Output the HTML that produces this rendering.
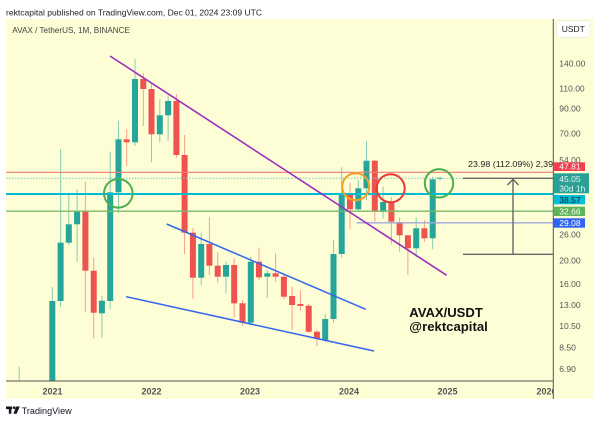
<!DOCTYPE html>
<html><head><meta charset="utf-8"><style>
html,body{margin:0;padding:0;background:#fff;}
svg{display:block;}
text{font-family:"Liberation Sans",sans-serif;}
</style></head><body>
<svg width="600" height="423" viewBox="0 0 600 423" xmlns="http://www.w3.org/2000/svg">
<defs><clipPath id="c"><rect x="6" y="19" width="547" height="362"/></clipPath></defs>
<rect x="0" y="0" width="600" height="423" fill="#fff"/>
<text x="6" y="15.5" font-size="8.5" fill="#222" textLength="256" lengthAdjust="spacingAndGlyphs">rektcapital published on TradingView.com, Dec 01, 2024 23:09 UTC</text>
<rect x="6" y="19" width="587.5" height="380" fill="#fdfdd6"/>
<text x="12.3" y="32.8" font-size="8.5" fill="#444" textLength="117.7" lengthAdjust="spacingAndGlyphs">AVAX / TetherUS, 1M, BINANCE</text>
<g clip-path="url(#c)">
<!-- green wicks -->
<g stroke="#26a69a" stroke-opacity=".55" stroke-width="1">
<line x1="19.2" y1="366.7" x2="19.2" y2="381"/>
<line x1="52.3" y1="287" x2="52.3" y2="381"/>
<line x1="60.6" y1="149" x2="60.6" y2="307"/>
<line x1="68.8" y1="193" x2="68.8" y2="245"/>
<line x1="77.1" y1="189" x2="77.1" y2="261.7"/>
<line x1="101.9" y1="295.7" x2="101.9" y2="337.7"/>
<line x1="110.2" y1="151.7" x2="110.2" y2="309.3"/>
<line x1="118.5" y1="121" x2="118.5" y2="212.7"/>
<line x1="135" y1="59" x2="135" y2="146"/>
<line x1="159.8" y1="99.3" x2="159.8" y2="142.3"/>
<line x1="168.1" y1="95.7" x2="168.1" y2="140.7"/>
<line x1="201.2" y1="232.7" x2="201.2" y2="285"/>
<line x1="226" y1="261.7" x2="226" y2="293.3"/>
<line x1="250.8" y1="256.7" x2="250.8" y2="324"/>
<line x1="267.3" y1="270" x2="267.3" y2="297.7"/>
<line x1="325.2" y1="314" x2="325.2" y2="341.7"/>
<line x1="333.5" y1="240" x2="333.5" y2="322.7"/>
<line x1="341.7" y1="167.3" x2="341.7" y2="257.7"/>
<line x1="358.3" y1="180" x2="358.3" y2="211.7"/>
<line x1="366.5" y1="141" x2="366.5" y2="200"/>
<line x1="383.1" y1="186.7" x2="383.1" y2="218.3"/>
<line x1="416.2" y1="217.3" x2="416.2" y2="257.3"/>
<line x1="432.7" y1="176.7" x2="432.7" y2="249.3"/>
<line x1="440" y1="176.7" x2="440" y2="180.7"/>
</g>
<!-- red wicks -->
<g stroke="#ef5350" stroke-opacity=".55" stroke-width="1">
<line x1="85.4" y1="181.7" x2="85.4" y2="311.7"/>
<line x1="93.7" y1="257.3" x2="93.7" y2="338.3"/>
<line x1="126.7" y1="129" x2="126.7" y2="166"/>
<line x1="143.3" y1="73.3" x2="143.3" y2="126"/>
<line x1="151.5" y1="82.3" x2="151.5" y2="162.3"/>
<line x1="176.4" y1="94.3" x2="176.4" y2="157.7"/>
<line x1="184.6" y1="135" x2="184.6" y2="254.3"/>
<line x1="192.9" y1="228" x2="192.9" y2="299"/>
<line x1="209.4" y1="217.3" x2="209.4" y2="275"/>
<line x1="217.7" y1="252.3" x2="217.7" y2="282.3"/>
<line x1="234.2" y1="258.3" x2="234.2" y2="317.7"/>
<line x1="242.5" y1="300" x2="242.5" y2="326"/>
<line x1="259" y1="247.7" x2="259" y2="280"/>
<line x1="275.6" y1="253.3" x2="275.6" y2="281.7"/>
<line x1="283.9" y1="274.3" x2="283.9" y2="299.3"/>
<line x1="292.1" y1="286.7" x2="292.1" y2="330"/>
<line x1="300.4" y1="290" x2="300.4" y2="311"/>
<line x1="308.7" y1="304" x2="308.7" y2="332.7"/>
<line x1="316.9" y1="330" x2="316.9" y2="346"/>
<line x1="350" y1="182.7" x2="350" y2="229"/>
<line x1="374.8" y1="160" x2="374.8" y2="221.7"/>
<line x1="391.4" y1="197.3" x2="391.4" y2="244"/>
<line x1="399.6" y1="217.3" x2="399.6" y2="251.7"/>
<line x1="407.9" y1="235" x2="407.9" y2="275"/>
<line x1="424.4" y1="220" x2="424.4" y2="241.7"/>
</g>
<!-- green bodies -->
<g fill="#26a69a">
<rect x="49.3" y="301" width="6" height="80"/>
<rect x="57.6" y="242.7" width="6" height="58.3"/>
<rect x="65.8" y="224.3" width="6" height="18.4"/>
<rect x="74.1" y="210.7" width="6" height="13.6"/>
<rect x="98.9" y="300.7" width="6" height="12.6"/>
<rect x="107.2" y="192.3" width="6" height="108.7"/>
<rect x="115.5" y="139.3" width="6" height="53"/>
<rect x="132" y="79" width="6" height="63.3"/>
<rect x="156.8" y="115.3" width="6" height="19"/>
<rect x="165.1" y="101" width="6" height="14.3"/>
<rect x="198.2" y="244" width="6" height="33.7"/>
<rect x="223" y="265" width="6" height="11.7"/>
<rect x="247.8" y="261.7" width="6" height="61"/>
<rect x="264.3" y="273.3" width="6" height="3.4"/>
<rect x="322.2" y="319" width="6" height="21"/>
<rect x="330.5" y="254" width="6" height="65"/>
<rect x="338.7" y="194" width="6" height="60"/>
<rect x="355.3" y="188.3" width="6" height="21"/>
<rect x="363.5" y="160.7" width="6" height="27.6"/>
<rect x="380.1" y="202" width="6" height="8.7"/>
<rect x="413.2" y="228.3" width="6" height="20"/>
<rect x="429.7" y="179.3" width="6" height="59"/>
<rect x="437" y="177.8" width="6" height="1"/>
</g>
<!-- red bodies -->
<g fill="#ef5350">
<rect x="82.4" y="210.7" width="6" height="60"/>
<rect x="90.7" y="270.7" width="6" height="42"/>
<rect x="123.7" y="139.3" width="6" height="3"/>
<rect x="140.3" y="79" width="6" height="10"/>
<rect x="148.5" y="89" width="6" height="45.3"/>
<rect x="173.4" y="101" width="6" height="54"/>
<rect x="181.6" y="155" width="6" height="77.7"/>
<rect x="189.9" y="232.7" width="6" height="45"/>
<rect x="206.4" y="244" width="6" height="21.7"/>
<rect x="214.7" y="265.7" width="6" height="11"/>
<rect x="231.2" y="265" width="6" height="38.3"/>
<rect x="239.5" y="303.3" width="6" height="19.4"/>
<rect x="256" y="261.7" width="6" height="15.6"/>
<rect x="272.6" y="273.3" width="6" height="3.4"/>
<rect x="280.9" y="276.7" width="6" height="20"/>
<rect x="289.1" y="296" width="6" height="9"/>
<rect x="297.4" y="304" width="6" height="2"/>
<rect x="305.7" y="305.7" width="6" height="26"/>
<rect x="313.9" y="331.7" width="6" height="7.3"/>
<rect x="347" y="194" width="6" height="15.3"/>
<rect x="371.8" y="160.7" width="6" height="50"/>
<rect x="388.4" y="202" width="6" height="19.7"/>
<rect x="396.6" y="222.3" width="6" height="13"/>
<rect x="404.9" y="235.3" width="6" height="13"/>
<rect x="421.4" y="228.3" width="6" height="10"/>
</g>
<!-- horizontal levels -->
<line x1="6" y1="172.3" x2="553" y2="172.3" stroke="#f07a7a" stroke-width="1.2"/>
<line x1="6" y1="178.3" x2="463" y2="178.3" stroke="#7cc8c0" stroke-width="1" stroke-dasharray="1.5,1.5"/>
<line x1="6" y1="194" x2="553" y2="194" stroke="#00bcd4" stroke-width="2"/>
<line x1="6" y1="211.2" x2="553" y2="211.2" stroke="#7cb86a" stroke-width="1.3"/>
<line x1="356.7" y1="222.8" x2="553" y2="222.8" stroke="#9fa8da" stroke-width="1.3"/>
<!-- trendlines -->
<line x1="110" y1="56" x2="446.7" y2="275.3" stroke="#9c2fbf" stroke-width="1.6"/>
<line x1="166.7" y1="224" x2="365.7" y2="309.3" stroke="#3366ee" stroke-width="1.5"/>
<line x1="126" y1="296.7" x2="374" y2="351" stroke="#3366ee" stroke-width="1.5"/>
<!-- circles -->
<circle cx="118.3" cy="193.3" r="14.3" fill="none" stroke="#4caf50" stroke-width="2"/>
<circle cx="355.7" cy="186.7" r="13.5" fill="none" stroke="#f5a020" stroke-width="2"/>
<circle cx="390.7" cy="188.3" r="14" fill="none" stroke="#e53935" stroke-width="2"/>
<circle cx="439" cy="183.3" r="14.2" fill="none" stroke="#4caf50" stroke-width="2"/>
<!-- measure tool -->
<line x1="463" y1="178.3" x2="553" y2="178.3" stroke="#666" stroke-width="1.4"/>
<line x1="463" y1="254.3" x2="553" y2="254.3" stroke="#666" stroke-width="1.4"/>
<line x1="513" y1="254.3" x2="513" y2="179" stroke="#666" stroke-width="1.4"/>
<polyline points="507.5,185 513,179.3 518.5,185" fill="none" stroke="#666" stroke-width="1.4"/>
<text x="468" y="167" font-size="8.5" fill="#222" textLength="90" lengthAdjust="spacingAndGlyphs">23.98 (112.09%) 2,394</text>
<!-- watermark text -->
<text x="409.3" y="317" font-size="12.5" font-weight="bold" fill="#111" textLength="73.5" lengthAdjust="spacingAndGlyphs">AVAX/USDT</text>
<text x="409.3" y="331" font-size="12.5" font-weight="bold" fill="#111" textLength="78.5" lengthAdjust="spacingAndGlyphs">@rektcapital</text>
</g>
<!-- axes -->
<line x1="553.3" y1="19" x2="553.3" y2="399" stroke="#555" stroke-width="1"/>
<line x1="6" y1="381" x2="553.3" y2="381" stroke="#555" stroke-width="1"/>
<!-- time labels -->
<g font-size="9" font-weight="bold" fill="#555" text-anchor="middle">
<text x="52.5" y="394.3">2021</text>
<text x="151.5" y="394.3">2022</text>
<text x="250" y="394.3">2023</text>
<text x="349" y="394.3">2024</text>
<text x="447.5" y="394.3">2025</text>
</g>
<svg x="0" y="381" width="553" height="18"><text x="546.5" y="13.3" font-size="9" font-weight="bold" fill="#555" text-anchor="middle" font-family="Liberation Sans, sans-serif">2026</text></svg>
<!-- price labels -->
<g font-size="8.5" fill="#555">
<text x="559.3" y="66.3">140.00</text>
<text x="559.3" y="91.3">110.00</text>
<text x="559.3" y="111.3">90.00</text>
<text x="559.3" y="136.3">70.00</text>
<text x="559.3" y="163">54.00</text>
<text x="559.3" y="237.3">26.00</text>
<text x="559.3" y="263.7">20.00</text>
<text x="559.3" y="287">16.00</text>
<text x="559.3" y="308">13.00</text>
<text x="559.3" y="329">10.50</text>
<text x="559.3" y="350.7">8.50</text>
<text x="559.3" y="372">6.90</text>
</g>
<rect x="556.7" y="20.7" width="33.3" height="16.6" rx="2.5" fill="#fff" stroke="#e4e4e4" stroke-width="0.6"/>
<text x="573.3" y="32" font-size="8.5" fill="#222" text-anchor="middle">USDT</text>
<rect x="553.3" y="162.3" width="31.7" height="8.7" fill="#f23f50"/>
<text x="559.3" y="169.6" font-size="8.5" fill="#fff">47.81</text>
<rect x="553.3" y="173.3" width="35.7" height="20" fill="#2aa196"/>
<text x="559.3" y="181.8" font-size="8.5" fill="#e6f5f3">45.05</text>
<text x="559.3" y="191.3" font-size="8.5" fill="#e6f5f3">30d 1h</text>
<rect x="553.3" y="195" width="31.7" height="9.3" fill="#00bcd4"/>
<text x="559.3" y="202.8" font-size="8.5" fill="#0b2530">38.57</text>
<rect x="553.3" y="206.7" width="31.7" height="9.3" fill="#5fb45b"/>
<text x="559.3" y="214.5" font-size="8.5" fill="#fff">32.66</text>
<rect x="553.3" y="218.3" width="31.7" height="9.4" fill="#2f63f2"/>
<text x="559.3" y="226.1" font-size="8.5" fill="#fff">29.08</text>
<!-- footer logo -->
<g fill="#131722">
<rect x="6" y="406.5" width="6.2" height="2.6"/>
<rect x="8.8" y="406.5" width="2.6" height="7.2"/>
<circle cx="14.2" cy="407.7" r="1.3"/>
<polygon points="16.2,406.5 19.8,406.5 16.6,413.7 13.4,413.7"/>
</g>
<text x="21.7" y="414" font-size="9" fill="#131722" textLength="50" lengthAdjust="spacingAndGlyphs">TradingView</text>
</svg>
</body></html>
